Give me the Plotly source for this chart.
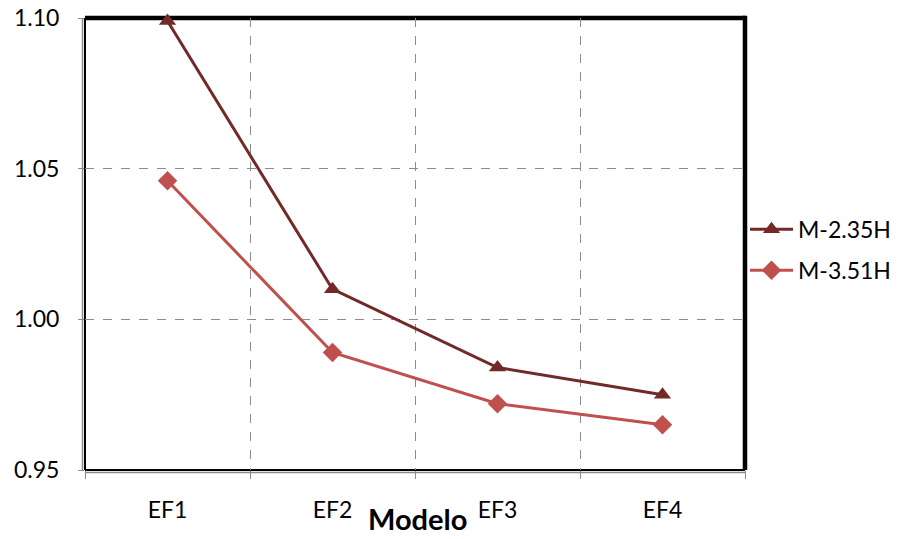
import plotly.graph_objects as go

categories = ["EF1", "EF2", "EF3", "EF4"]
m235 = [1.099, 1.010, 0.984, 0.975]
m351 = [1.046, 0.989, 0.972, 0.965]
y_ticks = [0.95, 1.00, 1.05, 1.10]
y_tick_labels = ["0.95", "1.00", "1.05", "1.10"]

FONT = "Lato, 'Open Sans', sans-serif"

fig = go.Figure()
fig.add_trace(go.Scatter(x=categories, y=m235, name="M-2.35H", mode="lines+markers",
                         legendgroup="a",
                         line=dict(color="#722A28", width=3), cliponaxis=False,
                         marker=dict(symbol="triangle-up", size=15, color="#722A28")))
fig.add_trace(go.Scatter(x=categories, y=m351, name="M-3.51H", mode="lines+markers",
                         legendgroup="b",
                         line=dict(color="#C0504D", width=3), cliponaxis=False,
                         marker=dict(symbol="diamond", size=15, color="#C0504D")))

# the page body adds an 8px offset, so the figure is 8px smaller on each side
fig.update_layout(
    width=900, height=531,
    margin=dict(l=77, r=163, t=10, b=69),
    paper_bgcolor="white", plot_bgcolor="white",
    font=dict(family=FONT, size=23, color="black"),
    showlegend=True,
    legend=dict(x=1.0, xanchor="left", y=0.487, yanchor="middle",
                bgcolor="rgba(0,0,0,0)",
                font=dict(size=23), itemwidth=43, tracegroupgap=8),
    xaxis=dict(type="category", range=[-0.5, 3.5], tickson="boundaries",
               showgrid=True, gridcolor="#8c8c8c", griddash="dash", gridwidth=1.2,
               ticks="outside", ticklen=8, tickcolor="#8c8c8c",
               showline=False, zeroline=False, ticklabelstandoff=24,
               automargin=False, tickfont=dict(size=23)),
    yaxis=dict(range=[0.95, 1.10], tickvals=y_ticks, ticktext=y_tick_labels,
               showgrid=True, gridcolor="#8c8c8c", griddash="dash", gridwidth=1.2,
               ticks="outside", ticklen=6, tickcolor="#8c8c8c",
               showline=False, zeroline=False, ticklabelstandoff=14,
               ticklabeloverflow="allow",
               automargin=False, tickfont=dict(size=23)),
)

# plot-area border: thick black top/right, black + grey double line left/bottom
fig.add_shape(type="line", xref="paper", yref="paper", x0=0, x1=1, y0=1, y1=1,
              line=dict(color="black", width=4.5), layer="below")
fig.add_shape(type="line", xref="paper", yref="paper", x0=1, x1=1, y0=0, y1=1.005,
              line=dict(color="black", width=4.5), layer="below")
fig.add_shape(type="line", xref="paper", yref="paper", x0=0, x1=1, y0=0, y1=0,
              line=dict(color="black", width=2), layer="below")
fig.add_shape(type="line", xref="paper", yref="paper", x0=0, x1=0, y0=0, y1=1,
              line=dict(color="black", width=2), layer="below")
fig.add_shape(type="line", xref="paper", yref="paper", xsizemode="pixel", xanchor=0,
              x0=-2.5, x1=-2.5, y0=0, y1=1, line=dict(color="#8c8c8c", width=1.5),
              layer="below")
fig.add_shape(type="line", xref="paper", yref="paper", ysizemode="pixel", yanchor=0,
              x0=0, x1=1, y0=-2.5, y1=-2.5, line=dict(color="#8c8c8c", width=1.5),
              layer="below")

fig.add_annotation(text="<b>Modelo</b>", xref="paper", yref="paper", x=0.5045, y=0,
                   yanchor="bottom", yshift=-68, showarrow=False,
                   font=dict(size=29, family=FONT, color="black"))

fig.write_html("out.html")
